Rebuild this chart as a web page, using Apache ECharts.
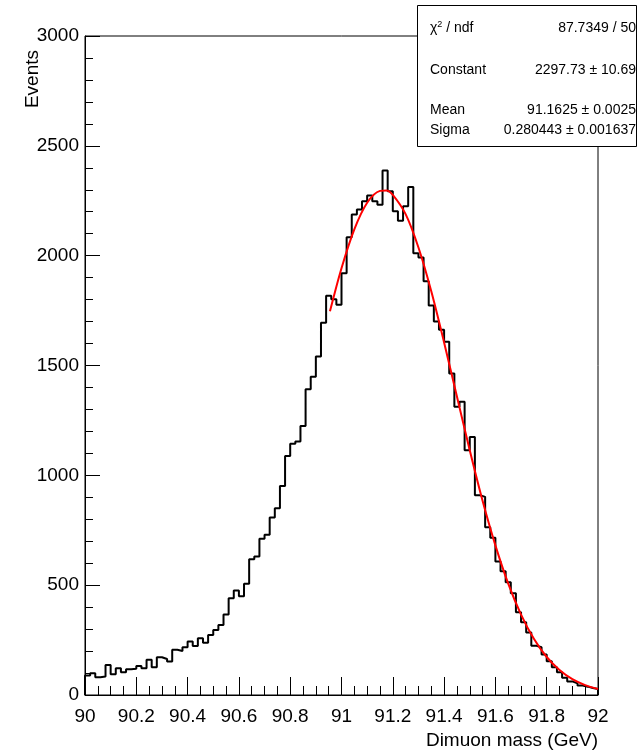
<!DOCTYPE html>
<html>
<head>
<meta charset="utf-8">
<script src="https://cdn.jsdelivr.net/npm/echarts@6/dist/echarts.min.js"></script>
<style>
html,body{margin:0;padding:0;background:#fff;}
#chart{width:638px;height:751px;}
</style>
</head>
<body>
<div id="chart"></div>
<script>
// Histogram: 100 bins from 90 to 92 GeV
const xMin = 90, xMax = 92, nBins = 100;
const counts = [
  89, 99, 81, 84, 137, 94, 122, 103, 117, 119,
  132, 122, 160, 126, 172, 164, 152, 206, 200, 217,
  243, 223, 258, 238, 273, 296, 319, 366, 440, 476,
  449, 506, 618, 630, 711, 729, 808, 850, 951, 1088,
  1144, 1154, 1225, 1392, 1449, 1541, 1695, 1817, 1802, 1776,
  1920, 2084, 2187, 2210, 2248, 2274, 2248, 2232, 2388, 2293,
  2202, 2159, 2225, 2313, 2011, 1992, 1883, 1773, 1700, 1663,
  1608, 1464, 1312, 1335, 1114, 1175, 909, 902, 764, 716,
  608, 563, 513, 463, 377, 331, 285, 224, 217, 184,
  154, 126, 103, 78, 62, 53, 43, 38, 32, 27
];
// Fit curve (Gaussian)
const fitX = [90.955, 91.0, 91.05, 91.1, 91.15, 91.175, 91.2, 91.25, 91.3, 91.35, 91.4, 91.45, 91.5, 91.55, 91.6, 91.65, 91.7, 91.75, 91.8, 91.85, 91.9, 91.95, 92.0];
const fitY = [1747, 1943, 2120, 2241, 2295, 2297, 2277, 2189, 2037, 1838, 1605, 1359, 1114, 884, 681, 507, 366, 256, 173, 114, 72, 45, 27];
// Stats box
const statNames = ['χ² / ndf', 'Constant', 'Mean', 'Sigma'];
const statValues = ['87.7349 / 50', '2297.73 ± 10.69', '91.1625 ± 0.0025', '0.280443 ± 0.001637'];

const binW = (xMax - xMin) / nBins;
const histData = [[xMin, 0]];
for (let i = 0; i < nBins; i++) histData.push([xMin + i * binW, counts[i]]);
histData.push([xMax, counts[nBins - 1]]);
histData.push([xMax, 0]);
const fitData = fitX.map((x, i) => [x, fitY[i]]);

const FONT = 'Liberation Sans, Arial, Helvetica, sans-serif';
const chart = echarts.init(document.getElementById('chart'), null, {renderer: 'canvas'});

const statGraphics = [];
statGraphics.push({type: 'rect', shape: {x: 417.5, y: 5.5, width: 219, height: 141}, style: {fill: '#fff', stroke: '#000', lineWidth: 1}, z: 100});
const rowY = [28, 70, 110, 130];
statNames.forEach((n, i) => {
  let txt = n, rich = {};
  if (i === 0) {
    txt = 'χ{s|2} / ndf';
    rich = {s: {fontSize: 9, verticalAlign: 'bottom', padding: [0, 0, 6, 0], fontFamily: FONT, fill: '#000'}};
  }
  statGraphics.push({type: 'text', x: 430, y: rowY[i], z: 101,
    style: {text: txt, rich: rich, fontSize: 14, fontFamily: FONT, fill: '#000', align: 'left', verticalAlign: 'middle'}});
  statGraphics.push({type: 'text', x: 636, y: rowY[i], z: 101,
    style: {text: statValues[i], fontSize: 14, fontFamily: FONT, fill: '#000', align: 'right', verticalAlign: 'middle'}});
});

chart.setOption({
  animation: false,
  backgroundColor: '#fff',
  grid: {left: 85, right: 40, top: 36, bottom: 56, show: true, borderColor: '#000', borderWidth: 1, backgroundColor: 'transparent'},
  xAxis: {
    type: 'value', min: xMin, max: xMax, interval: 0.2,
    axisLine: {show: true, onZero: false, lineStyle: {color: '#000', width: 1}},
    axisTick: {show: true, inside: true, length: 18, lineStyle: {color: '#000', width: 1}},
    minorTick: {show: true, splitNumber: 4, length: 9, lineStyle: {color: '#000', width: 1}},
    axisLabel: {fontSize: 19, color: '#000', fontFamily: FONT, margin: 12,
      formatter: v => String(Math.round(v * 10) / 10)},
    splitLine: {show: false}
  },
  yAxis: {
    type: 'value', min: 0, max: 3000, interval: 500,
    axisLine: {show: true, lineStyle: {color: '#000', width: 1}},
    axisTick: {show: true, inside: true, length: 15, lineStyle: {color: '#000', width: 1}},
    minorTick: {show: true, splitNumber: 5, length: 8, lineStyle: {color: '#000', width: 1}},
    axisLabel: {fontSize: 19, color: '#000', fontFamily: FONT, margin: 6,
      formatter: v => String(Math.round(v))},
    splitLine: {show: false}
  },
  series: [
    {type: 'line', data: histData, step: 'end', symbol: 'none',
     lineStyle: {color: '#000', width: 2}, z: 3},
    {type: 'line', data: fitData, smooth: 0.3, symbol: 'none',
     lineStyle: {color: '#ff0000', width: 2}, z: 4}
  ],
  graphic: [
    {type: 'text', x: 598, y: 731, style: {text: 'Dimuon mass (GeV)', fontSize: 19, fontFamily: FONT, fill: '#000', align: 'right', verticalAlign: 'top'}},
    {type: 'text', x: 33, y: 50, rotation: Math.PI / 2, style: {text: 'Events', fontSize: 19, fontFamily: FONT, fill: '#000', align: 'right', verticalAlign: 'middle'}}
  ].concat(statGraphics)
});
</script>
</body>
</html>
